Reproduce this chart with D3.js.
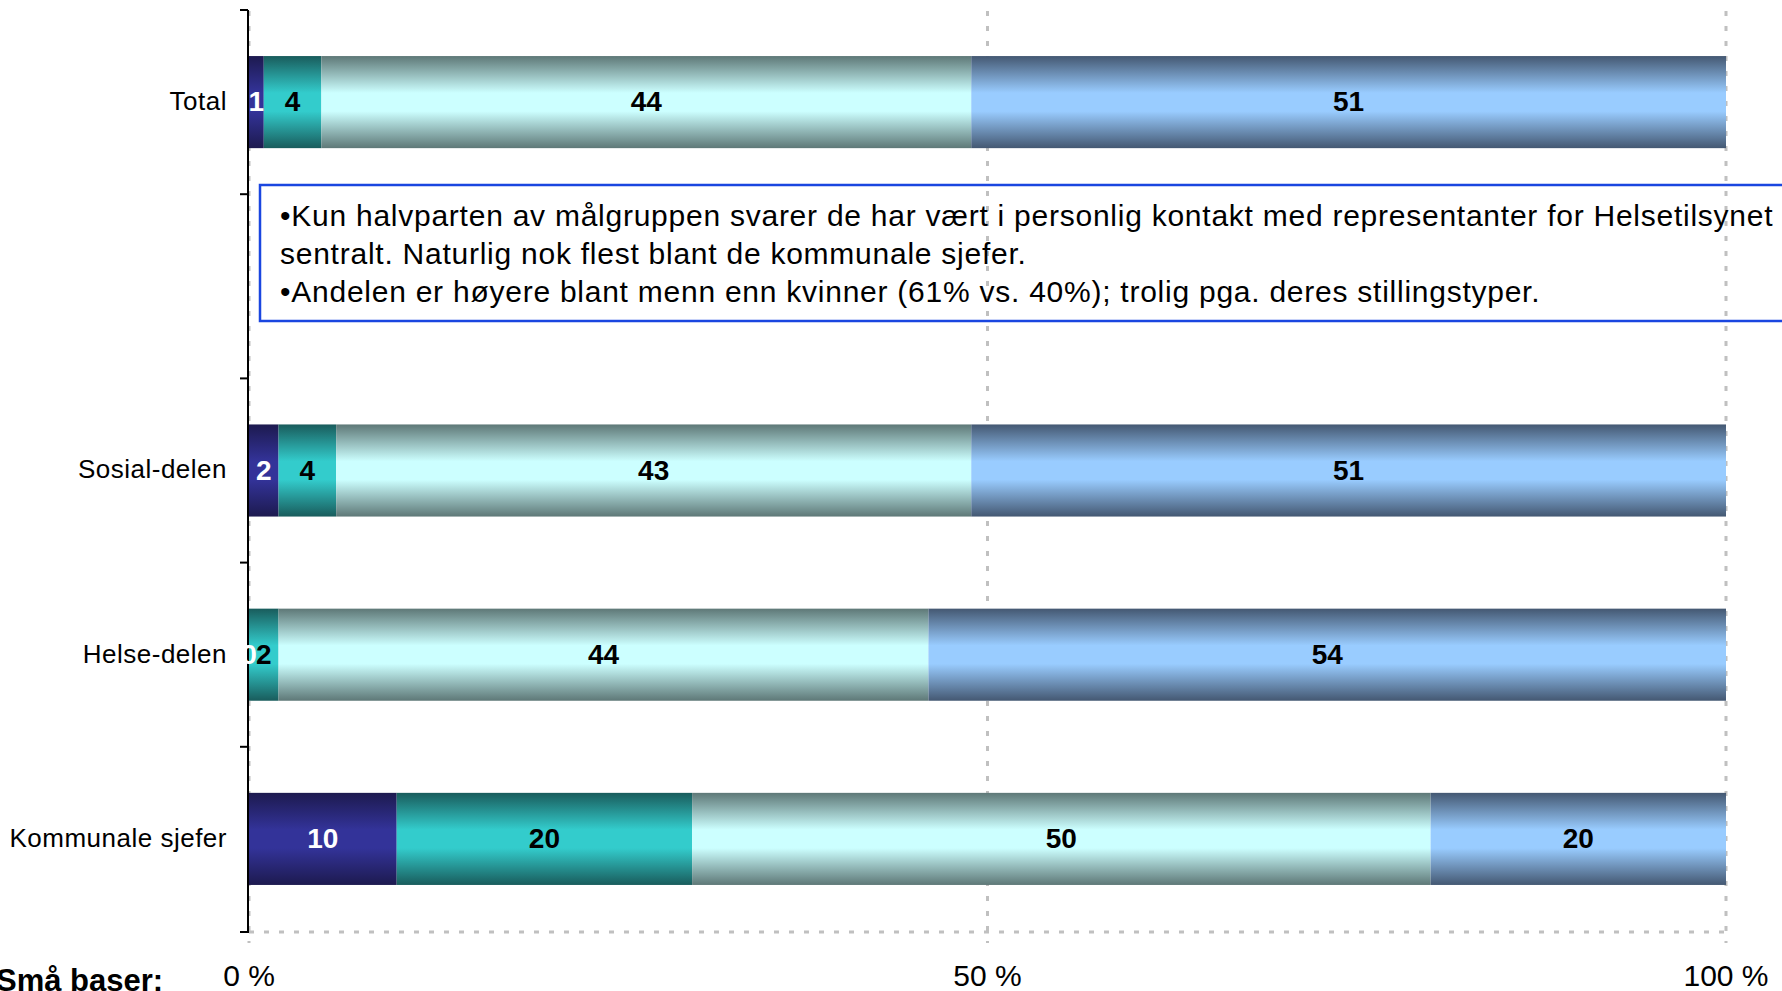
<!DOCTYPE html>
<html>
<head>
<meta charset="utf-8">
<script src="https://cdnjs.cloudflare.com/ajax/libs/d3/7.8.5/d3.min.js"></script>
<style>
  html, body { margin: 0; padding: 0; background: #fff; overflow: hidden; }
  svg { display: block; font-family: "Liberation Sans", Arial, sans-serif; }
</style>
</head>
<body>
<script>
// categories, top to bottom (the second one is an empty slot in the original)
const categories = ["Total", "", "Sosial-delen", "Helse-delen", "Kommunale sjefer"];

// stacked shares, percent, one array per series (null = no bar)
const series1 = [1.0, null, 2.0, 0.0, 10];
const series2 = [3.9, null, 3.9, 2.0, 20];
const series3 = [44.0, null, 43.0, 44.0, 50];
const series4 = [51.1, null, 51.1, 54.0, 20];

const xTicks = [0, 50, 100];
const xTickLabels = ["0 %", "50 %", "100 %"];

const noteLines = [
  "\u2022Kun halvparten av målgruppen svarer de har vært i personlig kontakt med representanter for Helsetilsynet",
  "sentralt. Naturlig nok flest blant de kommunale sjefer.",
  "\u2022Andelen er høyere blant menn enn kvinner (61% vs. 40%); trolig pga. deres stillingstyper."
];

const footLabel = "Små baser:";

const w = 1782;
const h = 991;

const allSeries = [series1, series2, series3, series4];
const shades = [
  { dark: "#1d1a4f", light: "#333399", text: "#fff" },
  { dark: "#195c5c", light: "#33cccc", text: "#000" },
  { dark: "#5e7877", light: "#ccffff", text: "#000" },
  { dark: "#445872", light: "#99ccff", text: "#000" }
];

const svg = d3.select("body")
  .append("svg")
  .attr("width", w)
  .attr("height", h);

// vertical gradients: dark edges, light middle
const defs = svg.append("defs");
shades.forEach((s, i) => {
  const g = defs.append("linearGradient")
    .attr("id", `grad${i}`)
    .attr("x1", 0).attr("y1", 0)
    .attr("x2", 0).attr("y2", 1);
  g.append("stop").attr("offset", "0%").attr("stop-color", s.dark);
  g.append("stop").attr("offset", "40%").attr("stop-color", s.light);
  g.append("stop").attr("offset", "60%").attr("stop-color", s.light);
  g.append("stop").attr("offset", "100%").attr("stop-color", s.dark);
});

const x = d3.scaleLinear()
  .domain([0, 100])
  .range([249, 1726]);

const y = d3.scaleBand()
  .domain(categories.map((c, i) => i))
  .range([10, 931])
  .paddingInner(0.5)
  .paddingOuter(0.25);

// dotted grid
const grid = svg.append("g")
  .attr("stroke", "#c0c0c0")
  .attr("stroke-width", 3)
  .attr("stroke-dasharray", "5,10");

grid.selectAll("line.v")
  .data(xTicks)
  .enter()
  .append("line")
  .attr("x1", d => x(d))
  .attr("x2", d => x(d))
  .attr("y1", 11)
  .attr("y2", 943);

grid.append("line")
  .attr("x1", x(0))
  .attr("x2", x(100))
  .attr("y1", 932)
  .attr("y2", 932);

// stack the segments
const segments = [];
categories.forEach((c, ci) => {
  let acc = 0;
  allSeries.forEach((s, si) => {
    const v = s[ci];
    if (v === null) return;
    segments.push({ ci, si, x0: acc, x1: acc + v, v });
    acc += v;
  });
});

svg.append("g")
  .selectAll("rect")
  .data(segments)
  .enter()
  .append("rect")
  .attr("x", d => x(d.x0))
  .attr("y", d => y(d.ci))
  .attr("width", d => x(d.x1) - x(d.x0))
  .attr("height", y.bandwidth())
  .attr("fill", d => `url(#grad${d.si})`);

// y axis: line plus ticks at the band edges
const yAxis = svg.append("g").attr("stroke", "#000").attr("stroke-width", 2);
yAxis.append("line")
  .attr("x1", 248).attr("x2", 248)
  .attr("y1", 10).attr("y2", 933);

const edges = categories.map((c, i) => y(i) - y.step() * 0.25).concat([932]);
yAxis.selectAll("line.tick")
  .data(edges)
  .enter()
  .append("line")
  .attr("x1", 240).attr("x2", 248)
  .attr("y1", d => d).attr("y2", d => d);

svg.append("g")
  .selectAll("text")
  .data(categories)
  .enter()
  .append("text")
  .attr("x", 227)
  .attr("y", (d, i) => y(i) + y.bandwidth() / 2)
  .attr("dy", "0.3em")
  .attr("text-anchor", "end")
  .attr("font-size", 26)
  .attr("letter-spacing", 0.5)
  .attr("fill", "#000")
  .text(d => d);

// note box
const note = svg.append("g");
note.append("rect")
  .attr("x", 260)
  .attr("y", 185)
  .attr("width", 1600)
  .attr("height", 136)
  .attr("fill", "none")
  .attr("stroke", "#1a46e0")
  .attr("stroke-width", 2.5);

note.selectAll("text")
  .data(noteLines)
  .enter()
  .append("text")
  .attr("x", 280)
  .attr("y", (d, i) => 226 + i * 38)
  .attr("font-size", 30)
  .attr("letter-spacing", 0.75)
  .attr("fill", "#000")
  .text(d => d);

// segment value labels
svg.append("g")
  .selectAll("text")
  .data(segments)
  .enter()
  .append("text")
  .attr("x", d => (x(d.x0) + x(d.x1)) / 2)
  .attr("y", d => y(d.ci) + y.bandwidth() / 2)
  .attr("dy", "0.33em")
  .attr("text-anchor", "middle")
  .attr("font-size", 28)
  .attr("font-weight", "bold")
  .attr("fill", d => shades[d.si].text)
  .text(d => d3.format(".0f")(d.v));

// x tick labels
svg.append("g")
  .selectAll("text")
  .data(xTicks)
  .enter()
  .append("text")
  .attr("x", d => x(d))
  .attr("y", 986)
  .attr("text-anchor", "middle")
  .attr("font-size", 30)
  .attr("fill", "#000")
  .text((d, i) => xTickLabels[i]);

svg.append("text")
  .attr("x", -4)
  .attr("y", 991)
  .attr("font-size", 31)
  .attr("font-weight", "bold")
  .attr("fill", "#000")
  .text(footLabel);
</script>
</body>
</html>
